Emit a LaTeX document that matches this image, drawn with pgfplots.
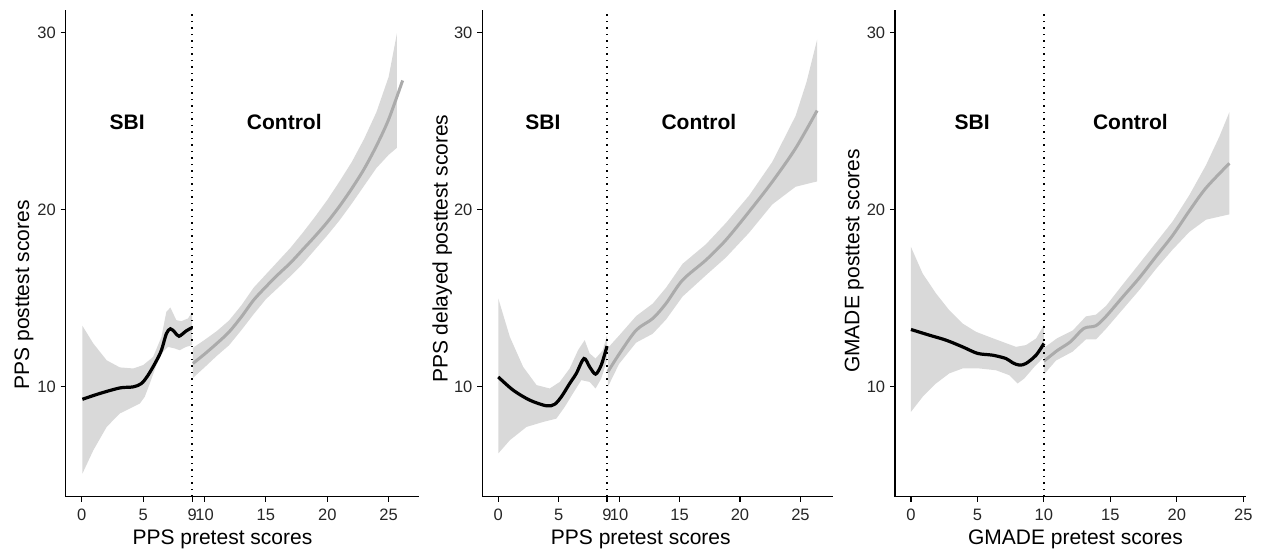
\documentclass[border=0pt]{standalone}
\usepackage{fontspec}
\setmainfont{Liberation Sans}
\usepackage{pgfplots}
\pgfplotsset{compat=1.18}
\definecolor{bandgray}{HTML}{D9D9D9}
\definecolor{linegray}{HTML}{ABABAB}
\tikzset{ann/.style={font=\bfseries\fontsize{21}{24}\selectfont}}
\pgfplotsset{
 rdd/.style={
  scale only axis, width=351pt, height=486.2pt,
  ymin=3.8, ymax=31.25,
  axis x line*=bottom, axis y line*=left,
  axis line style={line width=1.3pt, black},
  tick align=outside, major tick length=5pt,
  tick style={line width=1.1pt, black},
  ytick={10,20,30},
  /pgf/number format/assume math mode=true,
  ticklabel style={font=\fontsize{16.5}{18}\selectfont, text=black!85},
  xticklabel style={anchor=north, inner sep=0pt, yshift=-7.3pt},
  yticklabel style={anchor=east, inner sep=0pt, xshift=-4.7pt},
  label style={font=\fontsize{21}{24}\selectfont, inner sep=0pt},
 },
 sbiline/.style={black, line width=3.2pt, smooth},
 ctrline/.style={linegray, line width=3pt, smooth},
 bnd/.style={draw=none, fill=bandgray},
 cutline/.style={black, line width=1.5pt, dash pattern=on 1.5pt off 5pt},
}
\begin{document}
\begin{tikzpicture}
\path[use as bounding box] (0,0) rectangle (1262pt,557pt);
% ---------------- Panel 1 ----------------
\begin{axis}[rdd, width=353pt, at={(65.7pt,60.3pt)}, anchor=south west,
  xmin=-1.31, xmax=27.45, xtick={0,5,9,10,15,20,25},
  xlabel={PPS pretest scores}, ylabel={PPS posttest scores},
  xlabel style={at={(axis description cs:0.444,-0.0993)}, anchor=base},
  ylabel style={at={(axis description cs:-0.0907,0.415)}, anchor=south}]
\addplot[bnd] coordinates {(0.05,13.45) (0.94,12.45) (2.03,11.5) (3.1,11.1) (4.19,11.04) (5.0,11.23) (5.81,11.69) (6.49,12.82) (6.89,14.24) (7.22,14.48) (7.7,13.77) (8.11,13.71) (8.65,13.86) (9.0,14.24)
 (9.0,12.36) (8.51,12.26) (7.97,12.07) (7.57,12.17) (7.02,12.26) (6.62,11.98) (6.08,11.23) (5.54,10.19) (5.13,9.44) (4.73,9.06) (4.19,8.87) (3.1,8.5) (2.03,7.74) (0.94,6.42) (0.05,5.1)};
\addplot[bnd] coordinates {(9.05,12.2) (10,12.65) (11,13.15) (12,13.75) (13,14.6) (14,15.6) (15,16.35) (16,17.1) (17,17.85) (18,18.7) (19,19.6) (20,20.55) (21,21.6) (22,22.7) (23,24.0) (24,25.5) (25,27.5) (25.68,29.97)
 (25.68,23.5) (25,23.1) (24,22.35) (23,21.35) (22,20.35) (21,19.4) (20,18.55) (19,17.75) (18,16.95) (17,16.25) (16,15.6) (15,14.95) (14,14.1) (13,13.2) (12,12.35) (11,11.75) (10,11.1) (9.05,10.5)};
\addplot[sbiline] coordinates {(0.05,9.3) (1.48,9.63) (3.1,9.94) (4.19,10.0) (4.86,10.19) (5.4,10.66) (6.03,11.41) (6.49,12.07) (6.89,13.0) (7.22,13.28) (7.57,13.09) (7.92,12.86) (8.51,13.16) (9.0,13.35)};
\addplot[ctrline] coordinates {(9.05,11.32) (10,11.85) (11,12.45) (12,13.1) (13,13.95) (14,14.9) (15,15.65) (16,16.35) (17,17.0) (18,17.75) (19,18.5) (20,19.3) (21,20.2) (22,21.2) (23,22.3) (24,23.6) (25,25.1) (26.14,27.3)};
\addplot[cutline] coordinates {(9,3.8) (9,31.25)};
\node[ann] at (axis cs:3.7,24.95) {SBI};
\node[ann] at (axis cs:16.5,24.95) {Control};
\end{axis}
% ---------------- Panel 2 ----------------
\begin{axis}[rdd, at={(482.3pt,60.3pt)}, anchor=south west,
  xmin=-1.32, xmax=27.72, xtick={0,5,9,10,15,20,25},
  xlabel={PPS pretest scores}, ylabel={PPS delayed posttest scores},
  xlabel style={at={(axis description cs:0.4516,-0.0993)}, anchor=base},
  ylabel style={at={(axis description cs:-0.0855,0.51)}, anchor=south}]
\addplot[bnd] coordinates {(0,15.0) (0.96,12.82) (2.06,11.13) (3.17,10.1) (4.26,9.91) (5.09,10.28) (5.91,11.04) (6.6,12.07) (7.15,12.64) (7.56,11.89) (8.05,11.6) (8.65,12.07) (9.0,12.92)
 (9.0,11.51) (8.52,10.47) (8.05,9.91) (7.56,10.28) (6.87,10.38) (6.18,9.63) (5.5,8.87) (4.81,8.21) (3.71,8.02) (2.34,7.74) (0.96,6.99) (0,6.24)};
\addplot[bnd] coordinates {(9.07,12.2) (10,12.9) (11.41,14.0) (12.78,14.7) (13.88,15.6) (15.25,16.95) (17.18,18.05) (18.83,19.25) (20.75,20.8) (22.67,22.7) (24.6,25.3) (25.5,27.2) (26.38,29.6)
 (26.38,21.6) (24.6,21.3) (22.67,20.3) (20.75,18.7) (18.83,17.3) (17.18,16.3) (15.25,15.1) (13.88,13.8) (12.78,13.0) (11.41,12.5) (10,11.3) (9.07,10.0)};
\addplot[sbiline] coordinates {(0,10.56) (1.24,9.81) (2.61,9.25) (3.99,8.93) (4.67,9.02) (5.22,9.44) (5.91,10.19) (6.46,10.76) (7.09,11.6) (7.56,11.13) (8.05,10.72) (8.52,11.23) (9.0,12.3)};
\addplot[ctrline] coordinates {(9.07,10.85) (10,11.85) (11.41,13.2) (12.78,13.86) (13.88,14.71) (15.25,16.03) (17.18,17.16) (18.83,18.29) (20.75,19.89) (22.67,21.58) (24.6,23.47) (26.38,25.6)};
\addplot[cutline] coordinates {(9,3.8) (9,31.25)};
\node[ann] at (axis cs:3.7,24.95) {SBI};
\node[ann] at (axis cs:16.6,24.95) {Control};
\end{axis}
% ---------------- Panel 3 ----------------
\begin{axis}[rdd, at={(895pt,60.3pt)}, anchor=south west,
  xmin=-1.2, xmax=25.2, xtick={0,5,10,15,20,25},
  xlabel={GMADE pretest scores}, ylabel={GMADE posttest scores},
  xlabel style={at={(axis description cs:0.514,-0.0993)}, anchor=base},
  ylabel style={at={(axis description cs:-0.0883,0.485)}, anchor=south}]
\addplot[bnd] coordinates {(0,17.9) (0.88,16.4) (1.88,15.28) (2.88,14.33) (3.88,13.58) (4.89,13.11) (5.89,12.82) (6.89,12.54) (7.9,12.26) (8.65,12.36) (9.41,12.73) (10,13.49)
 (10,11.69) (9.28,11.13) (8.52,10.47) (8.02,10.19) (7.4,10.66) (6.39,10.94) (5.14,11.04) (3.88,11.04) (2.88,10.76) (1.88,10.19) (0.88,9.44) (0,8.59)};
\addplot[bnd] coordinates {(10,12.2) (11,12.75) (12.16,13.18) (13.16,13.98) (13.92,14.08) (14.67,14.57) (15.92,15.77) (17.18,16.96) (18.43,18.15) (19.68,19.34) (20.94,20.83) (22.19,22.52) (23.19,24.12) (23.95,25.51)
 (23.95,19.74) (22.19,19.44) (20.94,18.75) (19.68,17.75) (18.43,16.66) (17.18,15.47) (15.92,14.37) (14.67,13.28) (13.92,12.68) (13.16,12.68) (12.16,11.99) (10.91,11.49) (10,10.7)};
\addplot[sbiline] coordinates {(0,13.24) (1.38,12.92) (2.63,12.64) (3.88,12.26) (5.01,11.89) (6.14,11.79) (7.15,11.6) (7.65,11.36) (8.15,11.23) (8.65,11.32) (9.41,11.79) (10,12.45)};
\addplot[ctrline] coordinates {(10,11.45) (11,12.05) (12,12.55) (13,13.3) (13.9,13.45) (14.67,13.98) (15.92,15.07) (17.18,16.16) (18.43,17.36) (19.68,18.55) (20.94,19.94) (22.19,21.23) (23.95,22.62)};
\addplot[cutline] coordinates {(10,3.8) (10,31.25)};
\node[ann] at (axis cs:4.6,24.95) {SBI};
\node[ann] at (axis cs:16.5,24.95) {Control};
\end{axis}
\end{tikzpicture}
\end{document}
